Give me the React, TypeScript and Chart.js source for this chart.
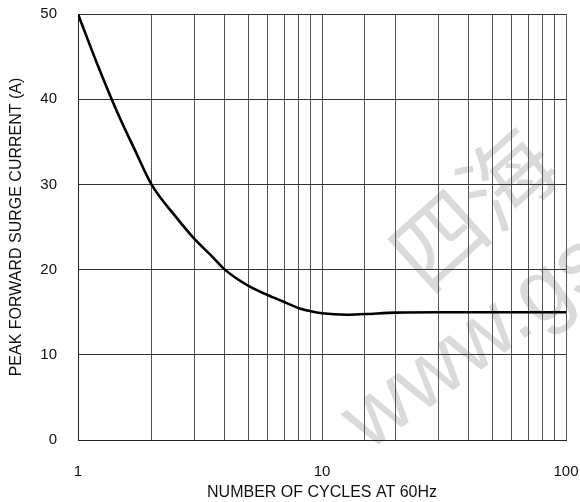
import React, { useEffect, useRef } from "react";
import { Chart, registerables } from "chart.js";

Chart.register(...registerables);

const cycles = [1, 1.2, 1.374, 1.5, 1.7, 2, 2.5, 3, 3.5, 4, 4.5, 5, 6, 7, 8, 9, 10, 12.6, 15, 20, 30, 50, 100];
const current = [50, 44.1, 40, 37.5, 34.2, 30, 26.3, 23.6, 21.7, 20, 18.9, 18.1, 17.0, 16.2, 15.5, 15.1, 14.87, 14.7, 14.78, 14.95, 15, 15, 15];
const xLabels = [1, 10, 100];
const yTicks = [0, 10, 20, 30, 40, 50];
const watermark1 = "四海";
const watermark2 = "www.gs";

const FONT = "'Liberation Sans', Arial, sans-serif";

const watermarkPlugin = {
  id: "watermark",
  beforeDraw(chart: any) {
    const ctx = chart.ctx;
    ctx.save();
    ctx.fillStyle = "#dadada";
    ctx.font = "92px 'Noto Sans CJK SC'";
    ctx.textBaseline = "middle";
    ctx.translate(440, 238);
    ctx.rotate((-42 * Math.PI) / 180);
    ctx.fillText(watermark1, -48, 0);
    ctx.restore();
    ctx.save();
    ctx.fillStyle = "#dadada";
    ctx.font = "88px " + FONT;
    ctx.textBaseline = "alphabetic";
    ctx.translate(368, 452);
    ctx.rotate((-36 * Math.PI) / 180);
    ctx.fillText(watermark2, 0, 0);
    ctx.restore();
  },
};

export default function App() {
  const ref = useRef<HTMLCanvasElement>(null);
  useEffect(() => {
    document.body.style.margin = "0";
    const chart = new Chart(ref.current!, {
      type: "line",
      data: {
        datasets: [
          {
            data: cycles.map((x, i) => ({ x, y: current[i] })),
            borderColor: "#000",
            borderWidth: 2.6,
            pointRadius: 0,
            cubicInterpolationMode: "monotone",
            fill: false,
          },
        ],
      },
      options: {
        animation: false,
        responsive: false,
        maintainAspectRatio: false,
        layout: { padding: { left: 0, top: 14, right: 14, bottom: 0 } },
        plugins: { legend: { display: false }, tooltip: { enabled: false } },
        scales: {
          x: {
            type: "logarithmic",
            min: 1,
            max: 100,
            afterFit(scale: any) {
              scale.height = 62;
            },
            grid: { color: "#555", lineWidth: 1, drawTicks: true, tickLength: 23, tickColor: "rgba(0,0,0,0)" },
            border: { color: "#222", width: 1 },
            ticks: {
              autoSkip: false,
              maxRotation: 0,
              padding: 0,
              color: "#111",
              font: { family: FONT, size: 15 },
              callback: (v: any) => (xLabels.includes(Number(v)) ? String(v) : ""),
            },
            title: {
              display: true,
              text: "NUMBER OF CYCLES AT 60Hz",
              color: "#111",
              padding: { top: 0, bottom: 0 },
              font: { family: FONT, size: 16 },
            },
          },
          y: {
            type: "linear",
            min: 0,
            max: 50,
            afterFit(scale: any) {
              scale.width = 78;
            },
            afterBuildTicks(scale: any) {
              scale.ticks = yTicks.map((v) => ({ value: v }));
            },
            grid: { color: "#333", lineWidth: 1, drawTicks: true, tickLength: 21, tickColor: "rgba(0,0,0,0)" },
            border: { color: "#222", width: 1 },
            ticks: {
              padding: 0,
              color: "#111",
              font: { family: FONT, size: 15 },
            },
            title: {
              display: true,
              text: "PEAK FORWARD SURGE CURRENT (A)",
              color: "#111",
              padding: { top: 7, bottom: 0 },
              font: { family: FONT, size: 16 },
            },
          },
        },
      },
      plugins: [watermarkPlugin],
    } as any);
    return () => chart.destroy();
  }, []);
  return (
    <div style={{ position: "absolute", left: 0, top: 0, width: 580, height: 502 }}>
      <canvas ref={ref} width={580} height={502} style={{ width: 580, height: 502 }} />
    </div>
  );
}
